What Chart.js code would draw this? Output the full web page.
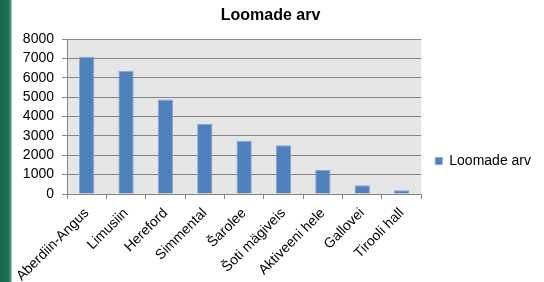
<!DOCTYPE html>
<html>
<head>
<meta charset="utf-8">
<script src="https://cdn.jsdelivr.net/npm/chart.js@4"></script>
<style>
    html, body { margin: 0; padding: 0; background: #fff; }
    #wrap { position: relative; width: 544px; height: 282px; }
    #strip {
        position: absolute; left: 0; top: 0; width: 12px; height: 282px;
        background: linear-gradient(to right, #16654a 0%, #1d7253 70%, #4a9a7c 90%, #cfe3da 100%);
    }
</style>
</head>
<body>
<div id="wrap">
    <canvas id="chart" width="544" height="282"></canvas>
    <div id="strip"></div>
</div>
<script>
// andmed
const breeds = ['Aberdiin-Angus', 'Limusiin', 'Hereford', 'Simmental', 'Šarolee',
    'Šoti mägiveis', 'Aktiveeni hele', 'Gallovei', 'Tirooli hall'];
const counts = [7080, 6360, 4880, 3620, 2750, 2510, 1250, 450, 200];
const yTicks = [0, 1000, 2000, 3000, 4000, 5000, 6000, 7000, 8000];

const FONT = 'Liberation Sans, Arial, sans-serif';
const GRID = '#878787';

// hall taust joonise alale
const plotBg = {
    id: 'plotBg',
    beforeDraw(chart) {
        const { ctx, chartArea: a } = chart;
        ctx.save();
        ctx.fillStyle = '#e6e6e6';
        ctx.fillRect(a.left, a.top, a.right - a.left, a.bottom - a.top);
        ctx.restore();
    }
};

new Chart(document.getElementById('chart'), {
    type: 'bar',
    data: {
        labels: breeds,
        datasets: [{
            label: 'Loomade arv',
            data: counts,
            backgroundColor: '#4f81bd',
            borderColor: '#86a8d4',
            borderWidth: 1,
            barPercentage: 0.39,
            categoryPercentage: 1
        }]
    },
    options: {
        responsive: false,
        animation: false,
        layout: { padding: { left: 0, top: 0, bottom: 0, right: 3 } },
        plugins: {
            title: {
                display: true,
                text: 'Loomade arv',
                color: '#000',
                font: { family: FONT, size: 16, weight: 'bold' },
                padding: { top: 6, bottom: 13.8 }
            },
            legend: {
                position: 'right',
                title: { display: true, text: '', font: { size: 1 }, padding: { top: 39, bottom: 0 } },
                labels: {
                    boxWidth: 7,
                    boxHeight: 7,
                    padding: 14,
                    color: '#000',
                    font: { family: FONT, size: 14 }
                }
            },
            tooltip: { enabled: false }
        },
        scales: {
            x: {
                afterFit(scale) { scale.height = 88; },
                grid: { drawOnChartArea: false, drawTicks: true, tickLength: 5, color: GRID },
                border: { color: GRID },
                ticks: {
                    autoSkip: false,
                    maxRotation: 45,
                    minRotation: 45,
                    padding: 6,
                    color: '#000',
                    font: { family: FONT, size: 14 }
                }
            },
            y: {
                min: 0,
                max: 8000,
                afterFit(scale) { scale.width = 67; },
                afterBuildTicks(scale) { scale.ticks = yTicks.map(v => ({ value: v })); },
                grid: { color: GRID, tickLength: 5 },
                border: { color: GRID },
                ticks: {
                    autoSkip: false,
                    padding: 8,
                    color: '#000',
                    font: { family: FONT, size: 14 },
                    callback: v => String(v)
                }
            }
        }
    },
    plugins: [plotBg]
});
</script>
</body>
</html>
